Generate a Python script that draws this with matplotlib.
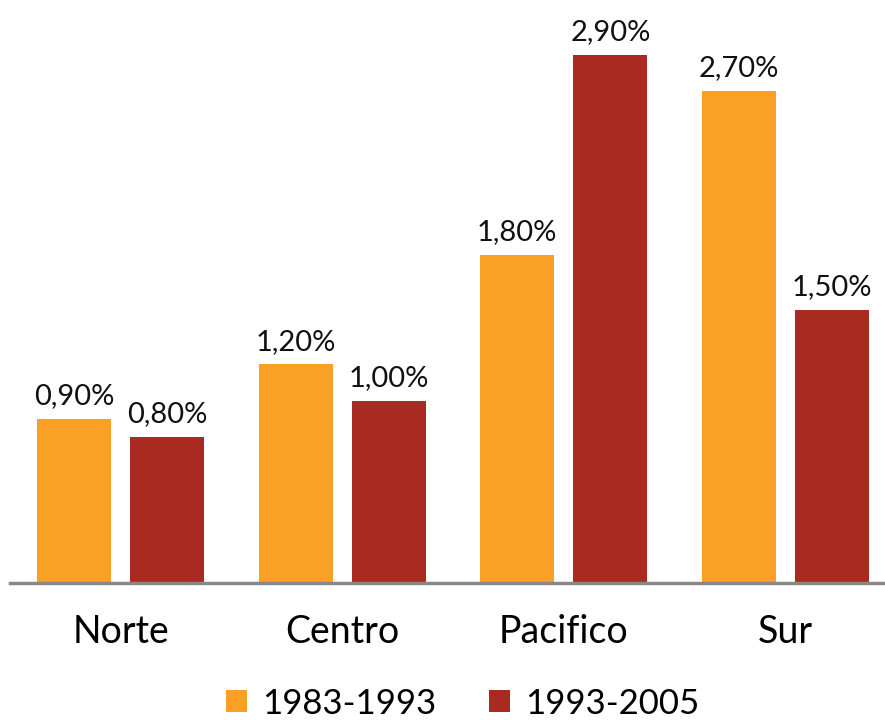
import matplotlib
matplotlib.use("Agg")
import matplotlib.pyplot as plt
import numpy as np

regiones = ["Norte", "Centro", "Pacifico", "Sur"]
periodo_1 = [0.90, 1.20, 1.80, 2.70]
periodo_2 = [0.80, 1.00, 2.90, 1.50]
series = ["1983-1993", "1993-2005"]

naranja = "#FBA026"
rojo = "#A92A20"

plt.rcParams['font.family'] = ['Lato', 'DejaVu Sans']

fig = plt.figure(figsize=(8.85, 7.2), dpi=100)
ax = fig.add_axes([10 / 885, 137 / 720, 875 / 885, 583 / 720])

x = np.arange(len(regiones))
w = 0.334
off = 0.21
b1 = ax.bar(x - off, periodo_1, w, color=naranja, label=series[0])
b2 = ax.bar(x + off, periodo_2, w, color=rojo, label=series[1])

for bars, vals in ((b1, periodo_1), (b2, periodo_2)):
    for b, v in zip(bars, vals):
        txt = ("%.2f%%" % v).replace(".", ",")
        ax.annotate(txt, (b.get_x() + b.get_width() / 2, v),
                    xytext=(0, 7), textcoords="offset points",
                    ha="center", va="bottom", fontsize=21, color="#111111")

ax.set_xlim(-0.5, 3.45)
ax.set_ylim(0, 3.2)
ax.set_yticks([])
ax.set_xticks(x)
ax.set_xticklabels(regiones, fontsize=27)
ax.tick_params(axis="x", length=0, pad=22)
for s in ["top", "right", "left"]:
    ax.spines[s].set_visible(False)
ax.spines["bottom"].set_color("#888888")
ax.spines["bottom"].set_linewidth(2.5)

fig.legend(handles=[b1, b2], labels=series, loc="lower center",
           bbox_to_anchor=(0.523, -0.043), ncol=2, frameon=False, fontsize=25,
           handlelength=0.6, handleheight=0.6, handletextpad=0.45,
           columnspacing=1.5)

fig.savefig("out.png", dpi=100)
